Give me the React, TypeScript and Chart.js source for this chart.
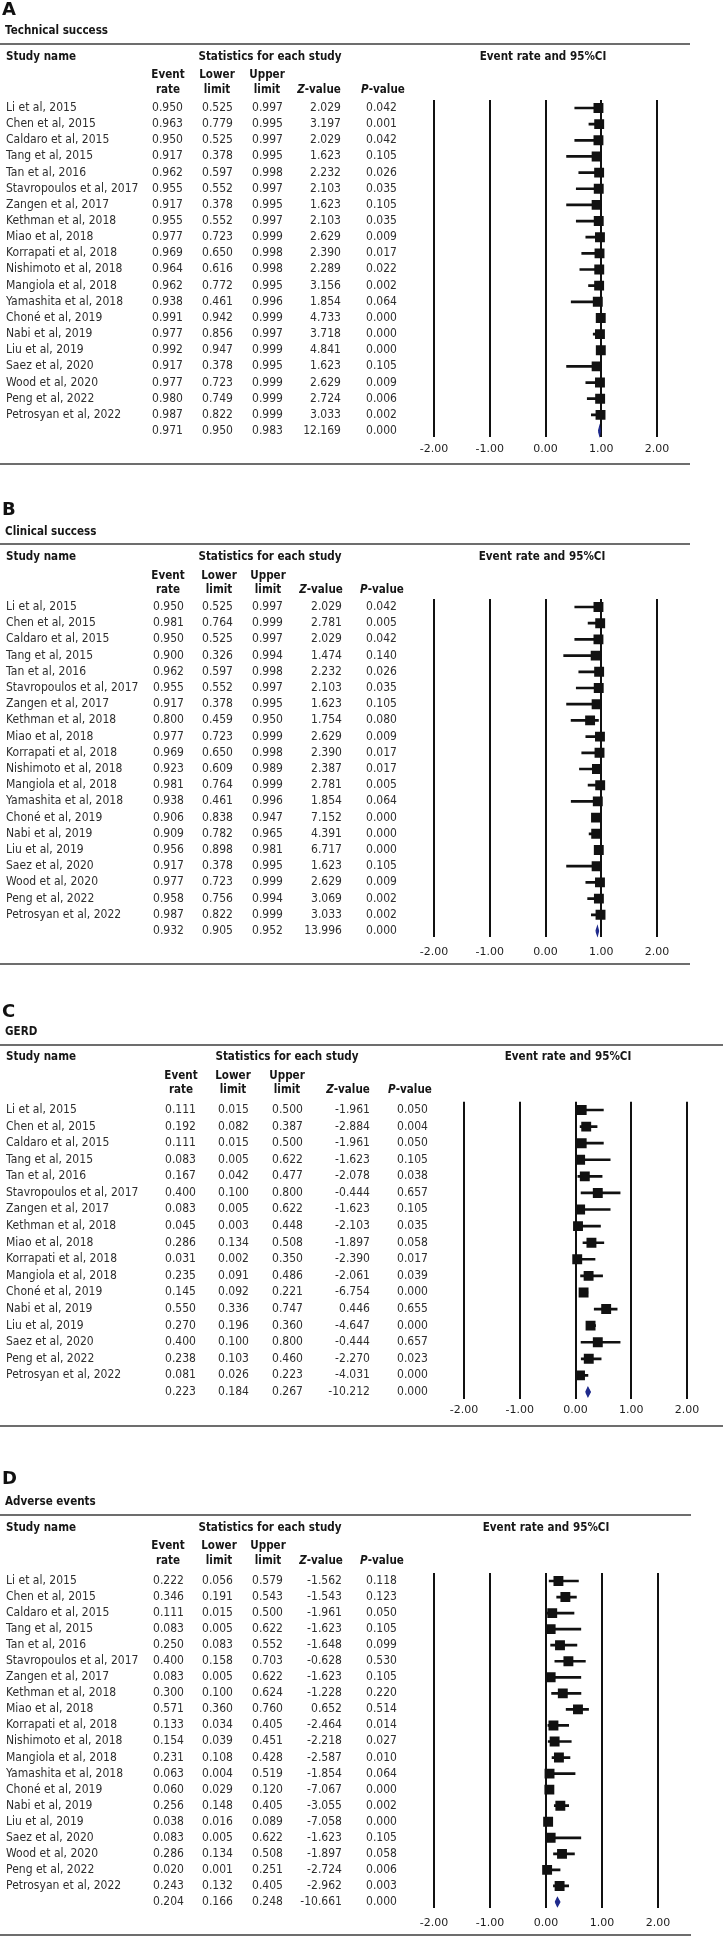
import React, { useEffect, useRef } from 'react';
import { Chart, registerables } from 'chart.js';

Chart.register(...registerables);

// ---------------- DATA ----------------
const tickValues = [-2, -1, 0, 1, 2];

// A. Technical success
const studiesA = ['Li et al, 2015', 'Chen et al, 2015', 'Caldaro et al, 2015', 'Tang et al, 2015', 'Tan et al, 2016', 'Stavropoulos et al, 2017', 'Zangen et al, 2017', 'Kethman et al, 2018', 'Miao et al, 2018', 'Korrapati et al, 2018', 'Nishimoto et al, 2018', 'Mangiola et al, 2018', 'Yamashita et al, 2018', 'Choné et al, 2019', 'Nabi et al, 2019', 'Liu et al, 2019', 'Saez et al, 2020', 'Wood et al, 2020', 'Peng et al, 2022', 'Petrosyan et al, 2022'];
const rateA = [0.950, 0.963, 0.950, 0.917, 0.962, 0.955, 0.917, 0.955, 0.977, 0.969, 0.964, 0.962, 0.938, 0.991, 0.977, 0.992, 0.917, 0.977, 0.980, 0.987];
const lowerA = [0.525, 0.779, 0.525, 0.378, 0.597, 0.552, 0.378, 0.552, 0.723, 0.650, 0.616, 0.772, 0.461, 0.942, 0.856, 0.947, 0.378, 0.723, 0.749, 0.822];
const upperA = [0.997, 0.995, 0.997, 0.995, 0.998, 0.997, 0.995, 0.997, 0.999, 0.998, 0.998, 0.995, 0.996, 0.999, 0.997, 0.999, 0.995, 0.999, 0.999, 0.999];
const zA = [2.029, 3.197, 2.029, 1.623, 2.232, 2.103, 1.623, 2.103, 2.629, 2.390, 2.289, 3.156, 1.854, 4.733, 3.718, 4.841, 1.623, 2.629, 2.724, 3.033];
const pA = [0.042, 0.001, 0.042, 0.105, 0.026, 0.035, 0.105, 0.035, 0.009, 0.017, 0.022, 0.002, 0.064, 0.000, 0.000, 0.000, 0.105, 0.009, 0.006, 0.002];
const summaryA = [0.971, 0.950, 0.983, 12.169, 0.000];

// B. Clinical success
const studiesB = ['Li et al, 2015', 'Chen et al, 2015', 'Caldaro et al, 2015', 'Tang et al, 2015', 'Tan et al, 2016', 'Stavropoulos et al, 2017', 'Zangen et al, 2017', 'Kethman et al, 2018', 'Miao et al, 2018', 'Korrapati et al, 2018', 'Nishimoto et al, 2018', 'Mangiola et al, 2018', 'Yamashita et al, 2018', 'Choné et al, 2019', 'Nabi et al, 2019', 'Liu et al, 2019', 'Saez et al, 2020', 'Wood et al, 2020', 'Peng et al, 2022', 'Petrosyan et al, 2022'];
const rateB = [0.950, 0.981, 0.950, 0.900, 0.962, 0.955, 0.917, 0.800, 0.977, 0.969, 0.923, 0.981, 0.938, 0.906, 0.909, 0.956, 0.917, 0.977, 0.958, 0.987];
const lowerB = [0.525, 0.764, 0.525, 0.326, 0.597, 0.552, 0.378, 0.459, 0.723, 0.650, 0.609, 0.764, 0.461, 0.838, 0.782, 0.898, 0.378, 0.723, 0.756, 0.822];
const upperB = [0.997, 0.999, 0.997, 0.994, 0.998, 0.997, 0.995, 0.950, 0.999, 0.998, 0.989, 0.999, 0.996, 0.947, 0.965, 0.981, 0.995, 0.999, 0.994, 0.999];
const zB = [2.029, 2.781, 2.029, 1.474, 2.232, 2.103, 1.623, 1.754, 2.629, 2.390, 2.387, 2.781, 1.854, 7.152, 4.391, 6.717, 1.623, 2.629, 3.069, 3.033];
const pB = [0.042, 0.005, 0.042, 0.140, 0.026, 0.035, 0.105, 0.080, 0.009, 0.017, 0.017, 0.005, 0.064, 0.000, 0.000, 0.000, 0.105, 0.009, 0.002, 0.002];
const summaryB = [0.932, 0.905, 0.952, 13.996, 0.000];

// C. GERD
const studiesC = ['Li et al, 2015', 'Chen et al, 2015', 'Caldaro et al, 2015', 'Tang et al, 2015', 'Tan et al, 2016', 'Stavropoulos et al, 2017', 'Zangen et al, 2017', 'Kethman et al, 2018', 'Miao et al, 2018', 'Korrapati et al, 2018', 'Mangiola et al, 2018', 'Choné et al, 2019', 'Nabi et al, 2019', 'Liu et al, 2019', 'Saez et al, 2020', 'Peng et al, 2022', 'Petrosyan et al, 2022'];
const rateC = [0.111, 0.192, 0.111, 0.083, 0.167, 0.400, 0.083, 0.045, 0.286, 0.031, 0.235, 0.145, 0.550, 0.270, 0.400, 0.238, 0.081];
const lowerC = [0.015, 0.082, 0.015, 0.005, 0.042, 0.100, 0.005, 0.003, 0.134, 0.002, 0.091, 0.092, 0.336, 0.196, 0.100, 0.103, 0.026];
const upperC = [0.500, 0.387, 0.500, 0.622, 0.477, 0.800, 0.622, 0.448, 0.508, 0.350, 0.486, 0.221, 0.747, 0.360, 0.800, 0.460, 0.223];
const zC = [-1.961, -2.884, -1.961, -1.623, -2.078, -0.444, -1.623, -2.103, -1.897, -2.390, -2.061, -6.754, 0.446, -4.647, -0.444, -2.270, -4.031];
const pC = [0.050, 0.004, 0.050, 0.105, 0.038, 0.657, 0.105, 0.035, 0.058, 0.017, 0.039, 0.000, 0.655, 0.000, 0.657, 0.023, 0.000];
const summaryC = [0.223, 0.184, 0.267, -10.212, 0.000];

// D. Adverse events
const studiesD = ['Li et al, 2015', 'Chen et al, 2015', 'Caldaro et al, 2015', 'Tang et al, 2015', 'Tan et al, 2016', 'Stavropoulos et al, 2017', 'Zangen et al, 2017', 'Kethman et al, 2018', 'Miao et al, 2018', 'Korrapati et al, 2018', 'Nishimoto et al, 2018', 'Mangiola et al, 2018', 'Yamashita et al, 2018', 'Choné et al, 2019', 'Nabi et al, 2019', 'Liu et al, 2019', 'Saez et al, 2020', 'Wood et al, 2020', 'Peng et al, 2022', 'Petrosyan et al, 2022'];
const rateD = [0.222, 0.346, 0.111, 0.083, 0.250, 0.400, 0.083, 0.300, 0.571, 0.133, 0.154, 0.231, 0.063, 0.060, 0.256, 0.038, 0.083, 0.286, 0.020, 0.243];
const lowerD = [0.056, 0.191, 0.015, 0.005, 0.083, 0.158, 0.005, 0.100, 0.360, 0.034, 0.039, 0.108, 0.004, 0.029, 0.148, 0.016, 0.005, 0.134, 0.001, 0.132];
const upperD = [0.579, 0.543, 0.500, 0.622, 0.552, 0.703, 0.622, 0.624, 0.760, 0.405, 0.451, 0.428, 0.519, 0.120, 0.405, 0.089, 0.622, 0.508, 0.251, 0.405];
const zD = [-1.562, -1.543, -1.961, -1.623, -1.648, -0.628, -1.623, -1.228, 0.652, -2.464, -2.218, -2.587, -1.854, -7.067, -3.055, -7.058, -1.623, -1.897, -2.724, -2.962];
const pD = [0.118, 0.123, 0.050, 0.105, 0.099, 0.530, 0.105, 0.220, 0.514, 0.014, 0.027, 0.010, 0.064, 0.000, 0.002, 0.000, 0.105, 0.058, 0.006, 0.003];
const summaryD = [0.204, 0.166, 0.248, -10.661, 0.000];

// ---------------- STYLE ----------------
const ROW_FONT = '11.4px "DejaVu Sans"';
const ROW_SX = 0.95;
const HEAD_FONT = 'bold 13px "DejaVu Sans"';
const HEAD_IT = 'italic bold 13px "DejaVu Sans"';
const HEAD_SX = 0.8;
const LETTER_FONT = 'bold 18px "DejaVu Sans"';
const TEXT_COL = '#2e2e2e';
const HEAD_COL = '#161616';
const RULE_COL = '#3c3c3c';
const MARK_COL = '#111111';
const DIAMOND_COL = '#1f2a8c';
const TICK_SIZE = 11;

interface PanelSpec {
  canvasTop: number; height: number;
  letter: string; title: string;
  names: string[]; rate: number[]; lower: number[]; upper: number[]; z: number[]; p: number[]; summary: number[];
  letterY: number; titleY: number; ruleTopY: number; ruleRight: number;
  h1: number; h2: number; h3: number;
  row0Y: number; rowLastY: number; tickY: number;
  ruleBottomY: number; ruleBottomRight: number;
  xLeft: number; xRight: number;
  colRight: number[]; headCenter: number[]; statsCenter: number; plotHeadCenter: number;
}

const panels: PanelSpec[] = [
  {
    canvasTop: 0, height: 472, letter: 'A', title: 'Technical success',
    names: studiesA, rate: rateA, lower: lowerA, upper: upperA, z: zA, p: pA, summary: summaryA,
    letterY: 10, titleY: 31, ruleTopY: 44, ruleRight: 690, h1: 57, h2: 75, h3: 90,
    row0Y: 108, rowLastY: 431, tickY: 449, ruleBottomY: 464, ruleBottomRight: 690,
    xLeft: 434, xRight: 657,
    colRight: [183, 233, 283, 341, 397], headCenter: [168, 217, 267, 319, 383], statsCenter: 270, plotHeadCenter: 543,
  },
  {
    canvasTop: 472, height: 500, letter: 'B', title: 'Clinical success',
    names: studiesB, rate: rateB, lower: lowerB, upper: upperB, z: zB, p: pB, summary: summaryB,
    letterY: 510, titleY: 532, ruleTopY: 544, ruleRight: 690, h1: 557, h2: 576, h3: 590,
    row0Y: 607, rowLastY: 931, tickY: 952, ruleBottomY: 964, ruleBottomRight: 690,
    xLeft: 434, xRight: 657,
    colRight: [184, 233, 283, 342, 397], headCenter: [168, 219, 268, 321, 382], statsCenter: 270, plotHeadCenter: 542,
  },
  {
    canvasTop: 972, height: 462, letter: 'C', title: 'GERD',
    names: studiesC, rate: rateC, lower: lowerC, upper: upperC, z: zC, p: pC, summary: summaryC,
    letterY: 1012, titleY: 1032, ruleTopY: 1045, ruleRight: 723, h1: 1057, h2: 1076, h3: 1090,
    row0Y: 1110, rowLastY: 1392, tickY: 1410, ruleBottomY: 1426, ruleBottomRight: 723,
    xLeft: 464, xRight: 687,
    colRight: [196, 249, 303, 370, 428], headCenter: [181, 233, 287, 348, 410], statsCenter: 287, plotHeadCenter: 568,
  },
  {
    canvasTop: 1434, height: 506, letter: 'D', title: 'Adverse events',
    names: studiesD, rate: rateD, lower: lowerD, upper: upperD, z: zD, p: pD, summary: summaryD,
    letterY: 1479, titleY: 1502, ruleTopY: 1515, ruleRight: 691, h1: 1528, h2: 1546, h3: 1561,
    row0Y: 1581, rowLastY: 1902, tickY: 1923, ruleBottomY: 1935, ruleBottomRight: 691,
    xLeft: 434, xRight: 658,
    colRight: [184, 233, 283, 342, 397], headCenter: [168, 219, 268, 321, 382], statsCenter: 270, plotHeadCenter: 546,
  },
];

// ---------------- HELPERS ----------------
function drawText(ctx: CanvasRenderingContext2D, str: string, x: number, y: number, font: string, align: CanvasTextAlign, sx: number, color: string) {
  ctx.save();
  ctx.font = font;
  ctx.fillStyle = color;
  ctx.textBaseline = 'middle';
  ctx.textAlign = align;
  ctx.translate(x, y);
  ctx.scale(sx, 1);
  ctx.fillText(str, 0, 0);
  ctx.restore();
}

function drawMixedCentered(ctx: CanvasRenderingContext2D, parts: [string, string][], cx: number, y: number, sx: number, color: string) {
  ctx.save();
  const widths = parts.map(([t, f]) => { ctx.font = f; return ctx.measureText(t).width * sx; });
  ctx.restore();
  const total = widths.reduce((a, b) => a + b, 0);
  let x = cx - total / 2;
  parts.forEach(([t, f], i) => {
    drawText(ctx, t, x, y, f, 'left', sx, color);
    x += widths[i];
  });
}

function hLine(ctx: CanvasRenderingContext2D, x1: number, x2: number, y: number) {
  ctx.save();
  ctx.strokeStyle = RULE_COL;
  ctx.lineWidth = 1.5;
  ctx.beginPath();
  ctx.moveTo(x1, y);
  ctx.lineTo(x2, y);
  ctx.stroke();
  ctx.restore();
}

function buildConfig(spec: PanelSpec): any {
  const n = spec.names.length;
  const T = spec.canvasTop;
  const step = (spec.rowLastY - spec.row0Y) / n;
  const yMin = -0.5;
  const yMax = n + 0.4;
  const chartTop = spec.row0Y - 0.5 * step - T;
  const chartBottom = spec.rowLastY + 0.4 * step - T;
  const tickPad = Math.max(0, spec.tickY - T - chartBottom - TICK_SIZE * 0.6);
  const axisH = TICK_SIZE * 1.2 + 2 * tickPad;
  const padBottom = spec.height - chartBottom - axisH;
  const [sr, sl, su] = spec.summary;

  const textPlugin = {
    id: 'forestText',
    afterDraw(chart: any) {
      const ctx: CanvasRenderingContext2D = chart.ctx;
      const ys = chart.scales.y;
      hLine(ctx, 0, spec.ruleRight, spec.ruleTopY - T);
      hLine(ctx, 0, spec.ruleBottomRight, spec.ruleBottomY - T);
      drawText(ctx, spec.letter, 2, spec.letterY - T, LETTER_FONT, 'left', 1, '#111');
      drawText(ctx, spec.title, 5, spec.titleY - T, HEAD_FONT, 'left', HEAD_SX, HEAD_COL);
      drawText(ctx, 'Study name', 6, spec.h1 - T, HEAD_FONT, 'left', HEAD_SX, HEAD_COL);
      drawText(ctx, 'Statistics for each study', spec.statsCenter, spec.h1 - T, HEAD_FONT, 'center', HEAD_SX, HEAD_COL);
      drawText(ctx, 'Event rate and 95%CI', spec.plotHeadCenter, spec.h1 - T, HEAD_FONT, 'center', HEAD_SX, HEAD_COL);
      const hc = spec.headCenter;
      drawText(ctx, 'Event', hc[0], spec.h2 - T, HEAD_FONT, 'center', HEAD_SX, HEAD_COL);
      drawText(ctx, 'rate', hc[0], spec.h3 - T, HEAD_FONT, 'center', HEAD_SX, HEAD_COL);
      drawText(ctx, 'Lower', hc[1], spec.h2 - T, HEAD_FONT, 'center', HEAD_SX, HEAD_COL);
      drawText(ctx, 'limit', hc[1], spec.h3 - T, HEAD_FONT, 'center', HEAD_SX, HEAD_COL);
      drawText(ctx, 'Upper', hc[2], spec.h2 - T, HEAD_FONT, 'center', HEAD_SX, HEAD_COL);
      drawText(ctx, 'limit', hc[2], spec.h3 - T, HEAD_FONT, 'center', HEAD_SX, HEAD_COL);
      drawMixedCentered(ctx, [['Z', HEAD_IT], ['-value', HEAD_FONT]], hc[3], spec.h3 - T, HEAD_SX, HEAD_COL);
      drawMixedCentered(ctx, [['P', HEAD_IT], ['-value', HEAD_FONT]], hc[4], spec.h3 - T, HEAD_SX, HEAD_COL);

      const cols = [spec.rate, spec.lower, spec.upper, spec.z, spec.p];
      spec.names.forEach((name, i) => {
        const y = ys.getPixelForValue(i);
        drawText(ctx, name, 6, y, ROW_FONT, 'left', ROW_SX, TEXT_COL);
        cols.forEach((arr, k) => {
          drawText(ctx, arr[i].toFixed(3), spec.colRight[k], y, ROW_FONT, 'right', ROW_SX, TEXT_COL);
        });
      });
      const ySum = ys.getPixelForValue(n);
      spec.summary.forEach((v, k) => {
        drawText(ctx, v.toFixed(3), spec.colRight[k], ySum, ROW_FONT, 'right', ROW_SX, TEXT_COL);
      });
    },
  };

  return {
    type: 'bar',
    data: {
      datasets: [
        {
          type: 'scatter',
          data: spec.names.map((_, i) => ({ x: spec.rate[i], y: i })),
          pointStyle: 'rect',
          pointRadius: 7,
          pointHoverRadius: 7,
          backgroundColor: MARK_COL,
          borderWidth: 0,
        },
        {
          type: 'bar',
          indexAxis: 'y',
          data: spec.names.map((_, i) => ({ y: i, x: [spec.lower[i], spec.upper[i]] })),
          backgroundColor: MARK_COL,
          borderWidth: 0,
          barThickness: 2,
        },
        {
          type: 'line',
          data: [
            { x: sl, y: n },
            { x: sr, y: n - 0.28 },
            { x: su, y: n },
            { x: sr, y: n + 0.28 },
            { x: sl, y: n },
          ],
          borderColor: DIAMOND_COL,
          backgroundColor: DIAMOND_COL,
          borderWidth: 1.2,
          fill: 'shape',
          pointRadius: 0,
          tension: 0,
        },
      ],
    },
    options: {
      indexAxis: 'y',
      animation: false,
      responsive: false,
      devicePixelRatio: 1,
      events: [],
      layout: {
        padding: {
          left: spec.xLeft,
          right: 723 - spec.xRight,
          top: chartTop,
          bottom: padBottom,
        },
      },
      plugins: { legend: { display: false }, tooltip: { enabled: false }, title: { display: false } },
      scales: {
        x: {
          type: 'linear',
          min: -2,
          max: 2,
          offset: false,
          afterBuildTicks: (scale: any) => {
            scale.ticks = tickValues.map((v) => ({ value: v }));
          },
          ticks: {
            callback: (v: any) => Number(v).toFixed(2),
            color: '#1e1e1e',
            font: { family: 'DejaVu Sans', size: TICK_SIZE },
            padding: tickPad,
            autoSkip: false,
            maxRotation: 0,
          },
          grid: { color: '#111111', lineWidth: 2, drawTicks: false },
          border: { display: false },
        },
        y: {
          type: 'linear',
          display: false,
          reverse: true,
          min: yMin,
          max: yMax,
          offset: false,
          grid: { display: false, offset: false },
        },
      },
    },
    plugins: [textPlugin],
  };
}

function Panel({ spec }: { spec: PanelSpec }) {
  const ref = useRef<HTMLCanvasElement | null>(null);
  useEffect(() => {
    if (!ref.current) return;
    const chart = new Chart(ref.current, buildConfig(spec));
    return () => chart.destroy();
  }, [spec]);
  return (
    <canvas
      ref={ref}
      width={723}
      height={spec.height}
      style={{ position: 'absolute', left: 0, top: spec.canvasTop, width: 723, height: spec.height, display: 'block' }}
    />
  );
}

export default function App() {
  return (
    <div style={{ position: 'absolute', left: 0, top: 0, width: 723, height: 1940, background: '#ffffff', overflow: 'hidden' }}>
      {panels.map((p) => (
        <Panel key={p.letter} spec={p} />
      ))}
    </div>
  );
}
